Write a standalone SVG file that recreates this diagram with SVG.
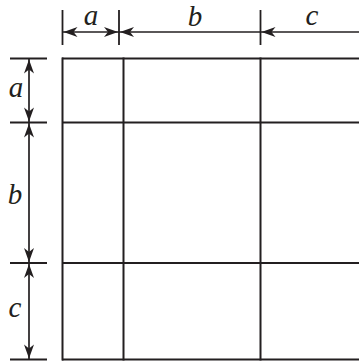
<svg xmlns="http://www.w3.org/2000/svg" width="359" height="362" viewBox="0 0 359 362">
<style>
.grid{stroke:#231f20;stroke-width:2;fill:none}
.dim{stroke:#231f20;stroke-width:1.7;fill:none}
.tick{stroke:#231f20;stroke-width:1.8;fill:none}
.lbl{font-family:"Liberation Serif","DejaVu Serif",serif;font-style:italic;font-size:29px;fill:#231f20;text-anchor:middle}
</style>
<defs>
<path id="ah" d="M0,0 L14,-5 L10,0 L14,5 Z" fill="#231f20"/>
</defs>
<rect width="359" height="362" fill="#fff"/>
<g id="square">
<line class="grid" x1="62" y1="58.5" x2="362" y2="58.5"/>
<line class="grid" x1="62" y1="122.5" x2="362" y2="122.5"/>
<line class="grid" x1="62" y1="263" x2="362" y2="263"/>
<line class="grid" x1="62" y1="359.5" x2="362" y2="359.5"/>
<line class="grid" x1="62.5" y1="57.5" x2="62.5" y2="360.5"/>
<line class="grid" x1="123.5" y1="57.5" x2="123.5" y2="360.5"/>
<line class="grid" x1="260.5" y1="57.5" x2="260.5" y2="360.5"/>
</g>
<g id="connectors">
<line class="tick" x1="62.5" y1="10" x2="62.5" y2="45"/>
<line class="tick" x1="119" y1="10" x2="119" y2="45"/>
<line class="tick" x1="260.5" y1="10" x2="260.5" y2="45"/>
<line class="dim" x1="62" y1="32" x2="359" y2="32"/>
<use href="#ah" transform="translate(63.5,32)"/>
<use href="#ah" transform="translate(118,32) rotate(180)"/>
<use href="#ah" transform="translate(120,32)"/>
<use href="#ah" transform="translate(261.5,32)"/>
<line class="tick" x1="10" y1="58.5" x2="47" y2="58.5"/>
<line class="tick" x1="10" y1="122.5" x2="47" y2="122.5"/>
<line class="tick" x1="10" y1="263" x2="47" y2="263"/>
<line class="tick" x1="10" y1="359.5" x2="47" y2="359.5"/>
<line class="dim" x1="29" y1="58.5" x2="29" y2="359.5"/>
<use href="#ah" transform="translate(29,59.5) rotate(90)"/>
<use href="#ah" transform="translate(29,121.5) rotate(-90)"/>
<use href="#ah" transform="translate(29,123.5) rotate(90)"/>
<use href="#ah" transform="translate(29,262) rotate(-90)"/>
<use href="#ah" transform="translate(29,264) rotate(90)"/>
<use href="#ah" transform="translate(29,358.5) rotate(-90)"/>
</g>
<g id="labels">
<text class="lbl" x="91" y="25">a</text>
<text class="lbl" x="195" y="26">b</text>
<text class="lbl" x="312" y="25">c</text>
<text class="lbl" x="16" y="97">a</text>
<text class="lbl" x="15" y="204">b</text>
<text class="lbl" x="15" y="317">c</text>
</g>
</svg>
